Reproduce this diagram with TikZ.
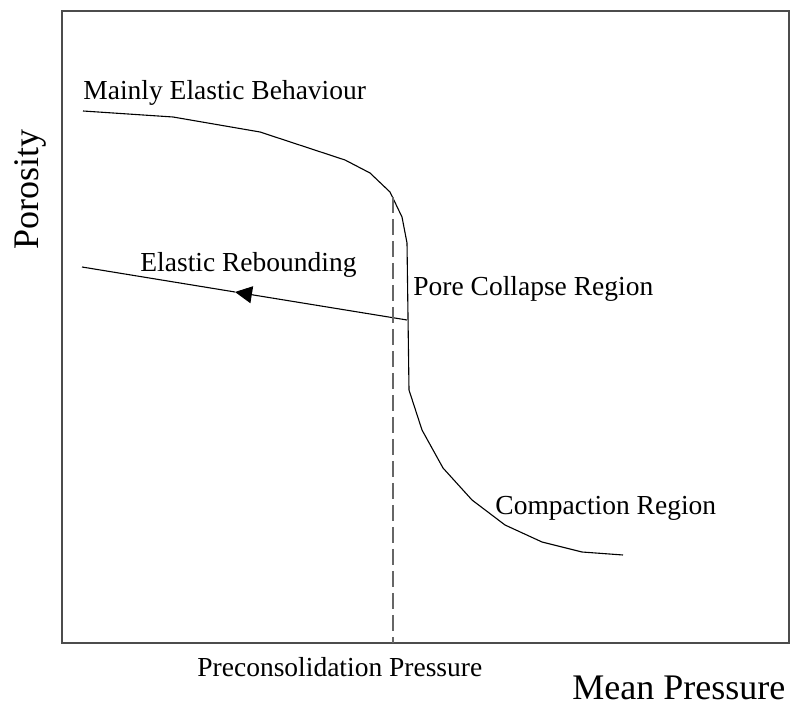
\documentclass[tikz,border=0pt]{standalone}
\usepackage{fontspec}
\setmainfont{Liberation Serif}
\usetikzlibrary{arrows.meta}

\tikzset{
    label/.style={inner sep=0pt, anchor=base west, font=\fontsize{13.75}{16}\selectfont},
    axislabel/.style={inner sep=0pt, anchor=base west, font=\fontsize{18}{21}\selectfont},
    curve/.style={black, line width=0.55pt, line join=round},
    frame/.style={black!70, line width=0.9pt},
    guide/.style={black!60, line width=0.6pt, dash pattern=on 8pt off 3pt}
}

\begin{document}
\begin{tikzpicture}[x=0.5pt, y=-0.5pt]
        \useasboundingbox (0,0) rectangle (797,704);

        % plot frame
        \draw[frame] (62,11) rectangle (789,643);

        % porosity curve
        \draw[curve] (83,111) -- (173,117) -- (260,132) -- (345,160) -- (370,173)
            -- (390,192) -- (402,217) -- (407,243) -- (409,390) -- (422,430)
            -- (443,468) -- (472,500) -- (505,525) -- (542,542) -- (582,552) -- (623,555);

        % rebound line
        \coordinate (R1) at (407,320);
        \coordinate (T) at (235,292);
        \coordinate (R0) at (82,267);
        \draw[curve, -{Triangle[length=8.5pt, width=8.5pt]}] (R1) -- (T);
        \draw[curve] (T) -- (R0);

        % preconsolidation pressure
        \coordinate (P0) at (393,197);
        \coordinate (P1) at (393,643);
        \draw[guide] (P0) -- (P1);

        \node[label] (M) at (83,100) {Mainly Elastic Behaviour};
        \node[label] (E) at (140,272) {Elastic Rebounding};
        \node[label] (C) at (413,296) {Pore Collapse Region};
        \node[label] (K) at (495,515) {Compaction Region};
        \node[label] (P) at (197,676) {Preconsolidation Pressure};
        \node[axislabel] (X) at (572,699) {Mean Pressure};
        \node[axislabel, rotate=90] (Y) at (39,250) {Porosity};
    \end{tikzpicture}
\end{document}
